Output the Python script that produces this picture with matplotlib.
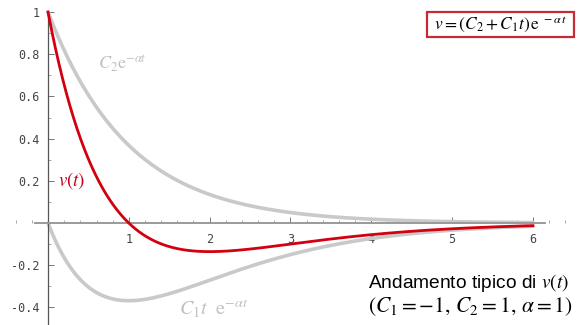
import numpy as np
import matplotlib.pyplot as plt
from matplotlib.patches import Rectangle
from matplotlib.ticker import MultipleLocator

plt.rcParams['font.family'] = ['Liberation Sans', 'DejaVu Sans']
plt.rcParams['mathtext.fontset'] = 'stix'

# parameters of v(t) = (C2 + C1 t) e^(-alpha t)
C1 = -1.0
C2 = 1.0
alpha = 1.0
t_end = 6.0

x_ticks = [1, 2, 3, 4, 5, 6]
y_ticks = [-0.4, -0.2, 0.2, 0.4, 0.6, 0.8, 1.0]
y_tick_labels = ['-0.4', '-0.2', '0.2', '0.4', '0.6', '0.8', '1']

t = np.linspace(0, t_end, 400)
v_c2 = C2 * np.exp(-alpha * t)
v_c1 = C1 * t * np.exp(-alpha * t)
v = v_c2 + v_c1

fig = plt.figure(figsize=(5.77, 3.25), dpi=100)
ax = fig.add_axes([0, 0, 1, 1])
ax.set_xlim(-0.594, 6.545)
ax.set_ylim(-0.483, 1.057)

gray = '#c9c9c9'
red = '#d3000f'
ax.plot(t, v_c2, color=gray, lw=2.6, solid_capstyle='round', zorder=2)
ax.plot(t, v_c1, color=gray, lw=2.6, solid_capstyle='round', zorder=2)
ax.plot(t, v, color=red, lw=2.0, zorder=3)

# axes through the origin
for side in ['top', 'right']:
    ax.spines[side].set_visible(False)
ax.spines['left'].set_position(('data', 0))
ax.spines['bottom'].set_position(('data', 0))
ax.spines['left'].set_bounds(-0.483, 1.0)
ax.spines['bottom'].set_bounds(-0.16, 6.15)
ax.spines['left'].set_color('#555555')
ax.spines['left'].set_linewidth(0.9)
ax.spines['bottom'].set_color('#9a9a9a')
ax.spines['bottom'].set_linewidth(1.4)

ax.set_xticks(x_ticks)
ax.set_xticklabels([str(x) for x in x_ticks])
ax.set_yticks(y_ticks)
ax.set_yticklabels(y_tick_labels)
ax.xaxis.set_minor_locator(MultipleLocator(0.2))
ax.yaxis.set_minor_locator(MultipleLocator(0.1))
ax.tick_params(axis='both', which='major', direction='in', length=4,
               width=0.7, color='#777777', labelsize=8.5, labelcolor='#444444')
ax.tick_params(axis='both', which='minor', direction='in', length=2,
               width=0.6, color='#999999')
ax.tick_params(axis='x', pad=7)
ax.tick_params(axis='y', pad=6)
for lab in ax.get_xticklabels() + ax.get_yticklabels():
    lab.set_family(['DejaVu Sans Mono'])
    lab.set_zorder(1)

# curve labels
ax.text(0.62, 0.755, r'$C_2\mathrm{e}^{-\alpha t}$', color='#c0c0c0',
        fontsize=13, ha='left', va='center')
ax.text(0.12, 0.2, r'$v(t)$', color='#c0001a', fontsize=13.5,
        ha='left', va='center')
ax.text(1.62, -0.405, r'$C_1 t\ \ \mathrm{e}^{-\alpha t}$', color='#c0c0c0',
        fontsize=14.5, ha='left', va='center')

# formula box
fig.patches.append(Rectangle((427 / 577, 1 - 37 / 325), 147 / 577, 25 / 325,
                             transform=fig.transFigure, facecolor='white',
                             edgecolor='#c62a32', lw=1.6, zorder=5))
fig.text(501 / 577, 1 - 24.5 / 325,
         r'$v = (C_2 + C_1 t)\,\mathrm{e}^{\ -\alpha\, t}$',
         fontsize=12.5, ha='center', va='center', zorder=6)

# description
fig.text(368 / 577, 1 - 283 / 325, r'Andamento tipico di $v(t)$',
         fontsize=13.8, ha='left', va='center')
fig.text(368 / 577, 1 - 307 / 325,
         r'$(C_1 = -1,\, C_2 = 1,\, \alpha = 1)$',
         fontsize=15.5, ha='left', va='center')

fig.savefig('out.png', dpi=100)
